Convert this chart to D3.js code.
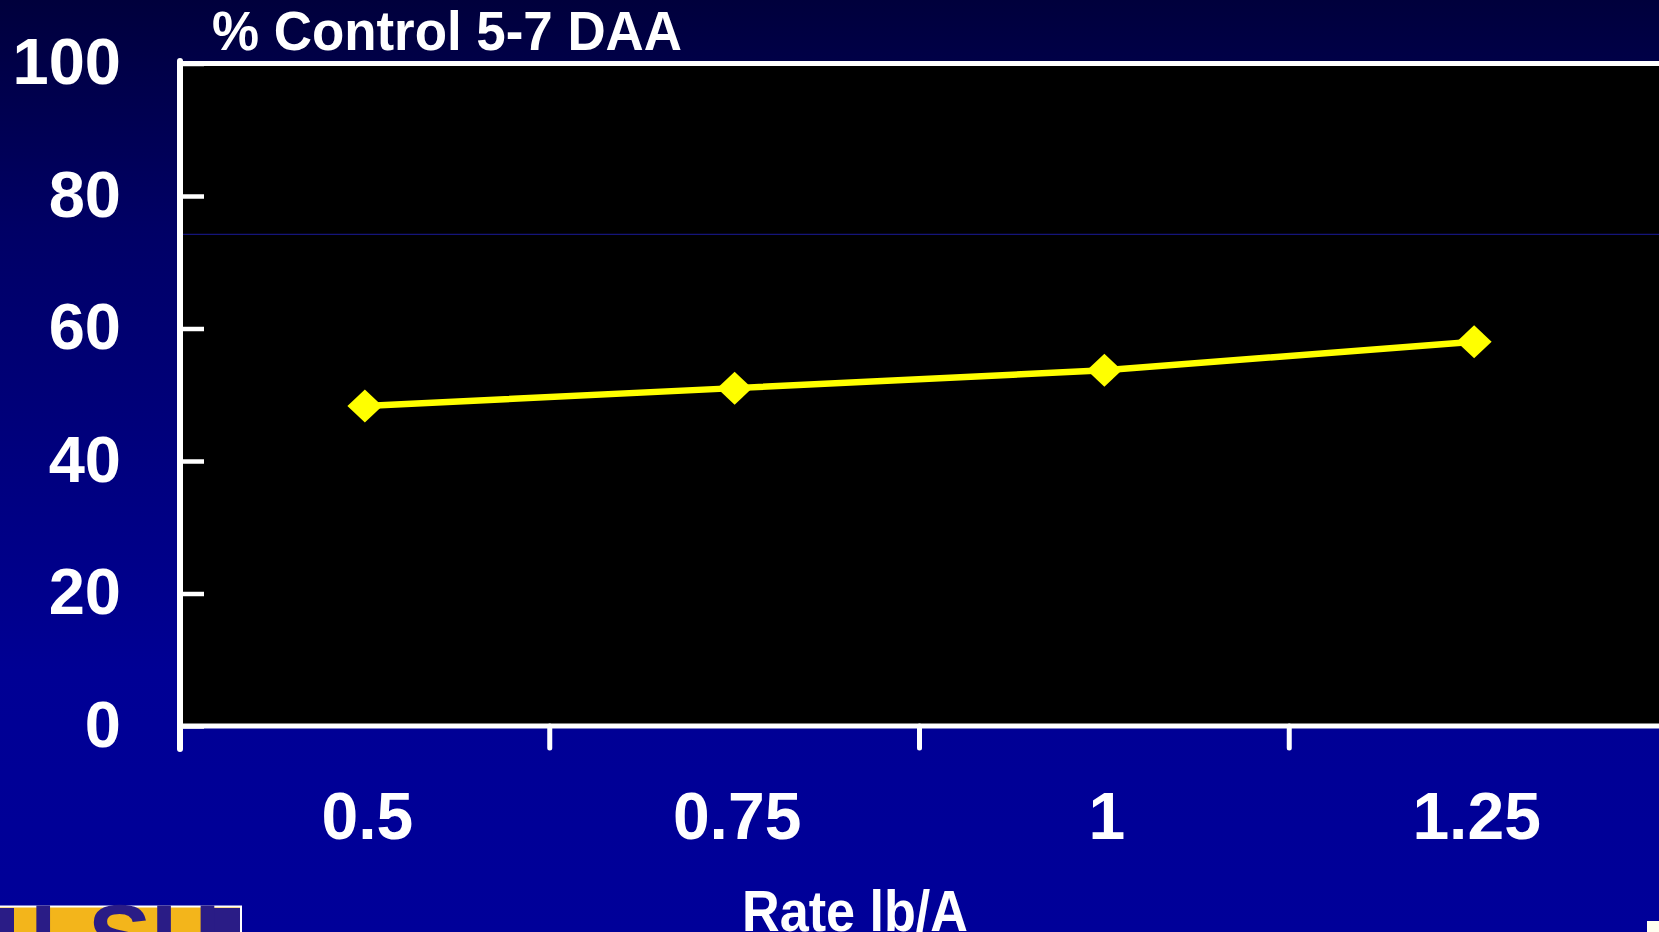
<!DOCTYPE html>
<html>
<head>
<meta charset="utf-8">
<script src="https://cdn.jsdelivr.net/npm/d3@7"></script>
<style>
  html, body { margin: 0; padding: 0; background: #000060; overflow: hidden; }
  svg { display: block; }
  text { font-family: "Liberation Sans", Arial, Helvetica, sans-serif; font-weight: bold; fill: #ffffff; }
</style>
</head>
<body>
<svg id="chart" width="1659" height="932"></svg>
<script>
// ---- data ----
const categories = ["0.5", "0.75", "1", "1.25"];
const controlValues = [48.3, 51.0, 53.7, 58.0];
const yTicks = [0, 20, 40, 60, 80, 100];
const referenceLine = [74.2];
const chartTitle = "% Control 5-7 DAA";
const xAxisTitle = "Rate lb/A";

// ---- layout ----
const W = 1659, H = 932;
const plot = { left: 180, right: 1659, top: 63.5, bottom: 726 };

const svg = d3.select("#chart");
const defs = svg.append("defs");
const grad = defs.append("linearGradient").attr("id", "bg")
  .attr("x1", 0).attr("y1", 0).attr("x2", 0).attr("y2", 1);
grad.append("stop").attr("offset", "0").attr("stop-color", "#00003c");
grad.append("stop").attr("offset", "0.25").attr("stop-color", "#000066");
grad.append("stop").attr("offset", "0.72").attr("stop-color", "#000094");
grad.append("stop").attr("offset", "1").attr("stop-color", "#000099");

svg.append("rect").attr("width", W).attr("height", H).attr("fill", "url(#bg)");

const x = d3.scaleBand().domain(categories).range([plot.left, plot.right]).padding(0);
const y = d3.scaleLinear().domain([0, 100]).range([plot.bottom, plot.top]);

// plot background
svg.append("rect")
  .attr("x", plot.left).attr("y", plot.top)
  .attr("width", plot.right - plot.left).attr("height", plot.bottom - plot.top)
  .attr("fill", "#000000");

// reference line (thin blue)
svg.selectAll("line.ref").data(referenceLine).join("line")
  .attr("class", "ref")
  .attr("x1", plot.left).attr("x2", plot.right)
  .attr("y1", d => y(d)).attr("y2", d => y(d))
  .attr("stroke", "#14147a").attr("stroke-width", 1.2);

// top border
svg.append("line")
  .attr("x1", plot.left - 3).attr("x2", plot.right)
  .attr("y1", y(100)).attr("y2", y(100))
  .attr("stroke", "#ffffff").attr("stroke-width", 5);

// y axis
const yAxis = d3.axisLeft(y).tickValues(yTicks).tickSizeInner(-24).tickSizeOuter(0).tickPadding(59)
  .tickFormat(d3.format("d"));
const gy = svg.append("g").attr("transform", `translate(${plot.left},0)`).call(yAxis);
gy.select(".domain").remove();
gy.selectAll(".tick line").attr("stroke", "#ffffff").attr("stroke-width", 4.5);
gy.selectAll(".tick text")
  .attr("font-size", 65).attr("fill", "#ffffff").attr("dy", "0.31em")
  .style("font-family", "'Liberation Sans', Arial, sans-serif").style("font-weight", "bold");

// y axis line
svg.append("line")
  .attr("x1", plot.left).attr("x2", plot.left)
  .attr("y1", y(100) - 2.5).attr("y2", plot.bottom + 23)
  .attr("stroke", "#ffffff").attr("stroke-width", 6).attr("stroke-linecap", "round");

// x axis line
svg.append("line")
  .attr("x1", plot.left).attr("x2", plot.right)
  .attr("y1", plot.bottom).attr("y2", plot.bottom)
  .attr("stroke", "#ffffff").attr("stroke-width", 5);

// x ticks at band boundaries
svg.selectAll("line.xtick").data(categories.slice(1)).join("line")
  .attr("class", "xtick")
  .attr("x1", d => x(d)).attr("x2", d => x(d))
  .attr("y1", plot.bottom).attr("y2", plot.bottom + 22)
  .attr("stroke", "#ffffff").attr("stroke-width", 5).attr("stroke-linecap", "round");

// x labels
svg.selectAll("text.xlab").data(categories).join("text")
  .attr("class", "xlab")
  .attr("x", d => x(d) + x.bandwidth() / 2 + 2.5)
  .attr("y", 839)
  .attr("text-anchor", "middle")
  .attr("font-size", 66)
  .text(d => d);

// series line
const line = d3.line()
  .x((d, i) => x(categories[i]) + x.bandwidth() / 2)
  .y(d => y(d));
svg.append("path").datum(controlValues)
  .attr("d", line)
  .attr("fill", "none").attr("stroke", "#ffff00").attr("stroke-width", 6.5);

// diamond markers
svg.selectAll("path.marker").data(controlValues).join("path")
  .attr("class", "marker")
  .attr("transform", (d, i) => `translate(${x(categories[i]) + x.bandwidth() / 2},${y(d)})`)
  .attr("d", "M0,-16.5 L17.5,0 L0,16.5 L-17.5,0 Z")
  .attr("fill", "#ffff00");

// chart title
svg.append("text")
  .attr("x", 212).attr("y", 50.2)
  .attr("font-size", 55.5)
  .attr("textLength", 470).attr("lengthAdjust", "spacingAndGlyphs")
  .text(chartTitle);

// x axis title
svg.append("text")
  .attr("x", 742).attr("y", 931)
  .attr("font-size", 57)
  .attr("textLength", 226).attr("lengthAdjust", "spacingAndGlyphs")
  .text(xAxisTitle);

// LSU logo fragment at bottom-left
const logo = svg.append("g");
logo.append("rect").attr("x", -2).attr("y", 906.5).attr("width", 243).attr("height", 30)
  .attr("fill", "#f3b51b").attr("stroke", "#ffffff").attr("stroke-width", 2);
logo.append("rect").attr("x", 0).attr("y", 908).attr("width", 14).attr("height", 24).attr("fill", "#2a1c86");
logo.append("rect").attr("x", 208).attr("y", 908).attr("width", 32).attr("height", 24).attr("fill", "#2a1c86");
logo.append("text").attr("x", 30).attr("y", 968).attr("font-size", 90)
  .style("fill", "#2a1c86").attr("textLength", 190).attr("lengthAdjust", "spacingAndGlyphs").text("LSU");

// small white square bottom-right
svg.append("rect").attr("x", 1647).attr("y", 921).attr("width", 12).attr("height", 11).attr("fill", "#fffff0");
</script>
</body>
</html>
